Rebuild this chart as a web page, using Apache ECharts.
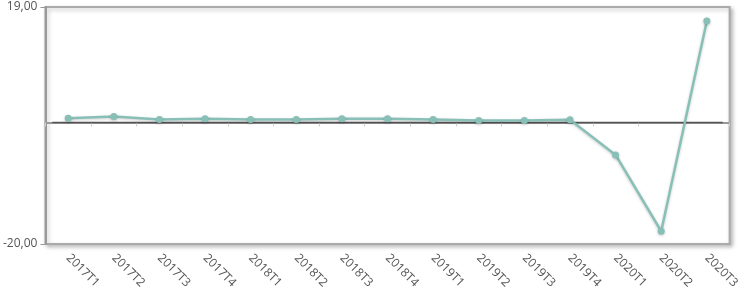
<!DOCTYPE html>
<html><head><meta charset="utf-8">
<script src="https://cdn.jsdelivr.net/npm/echarts@6/dist/echarts.min.js"></script>
<style>html,body{margin:0;padding:0;background:#fff}#c{width:742px;height:300px}</style>
</head><body><div id="c"></div>
<script>
const categories = ['2017T1','2017T2','2017T3','2017T4','2018T1','2018T2','2018T3','2018T4','2019T1','2019T2','2019T3','2019T4','2020T1','2020T2','2020T3'];
const values = [0.7, 1.0, 0.5, 0.6, 0.5, 0.5, 0.6, 0.6, 0.5, 0.33, 0.33, 0.43, -5.35, -17.9, 16.7];
const yMin = -20, yMax = 19;
const zeroLine = [[1, 0], [99, 0]];
const chart = echarts.init(document.getElementById('c'));
chart.setOption({
  animation: false,
  textStyle: {fontFamily: 'Open Sans'},
  grid: {left: 43, top: 7, right: 11, bottom: 56, show: true, borderColor: '#aaa', borderWidth: 2,
    backgroundColor: '#fff', shadowColor: 'rgba(0,0,0,0.25)', shadowBlur: 4, shadowOffsetX: 2, shadowOffsetY: 2},
  xAxis: [{type: 'category', data: categories, boundaryGap: true,
    axisLine: {lineStyle: {color: '#999', width: 2}},
    axisTick: {show: true, alignWithLabel: false, length: 4, lineStyle: {color: '#ccc'}},
    axisLabel: {rotate: -45, color: '#555', fontSize: 12, margin: 12}},
    {type: 'value', min: 0, max: 100, show: false}],
  yAxis: {type: 'value', min: yMin, max: yMax, interval: yMax - yMin,
    splitLine: {show: false},
    axisLine: {show: true, lineStyle: {color: '#999', width: 2}},
    axisTick: {show: true, length: 5, lineStyle: {color: '#999'}},
    axisLabel: {color: '#555', fontSize: 12, margin: 8,
      formatter: v => v.toFixed(2).replace('.', ',')}},
  series: [
    {type: 'line', xAxisIndex: 1, data: zeroLine, symbol: 'none', silent: true, z: 1,
      lineStyle: {color: '#555', width: 1.5}},
    {type: 'line', data: values, symbol: 'circle', symbolSize: 7, z: 3,
    lineStyle: {color: '#88c0b8', width: 2.5, shadowColor: 'rgba(0,0,0,0.2)', shadowBlur: 3, shadowOffsetY: 1},
    itemStyle: {color: '#88c0b8', shadowColor: 'rgba(0,0,0,0.2)', shadowBlur: 3, shadowOffsetY: 1}
  }]
});
</script></body></html>
